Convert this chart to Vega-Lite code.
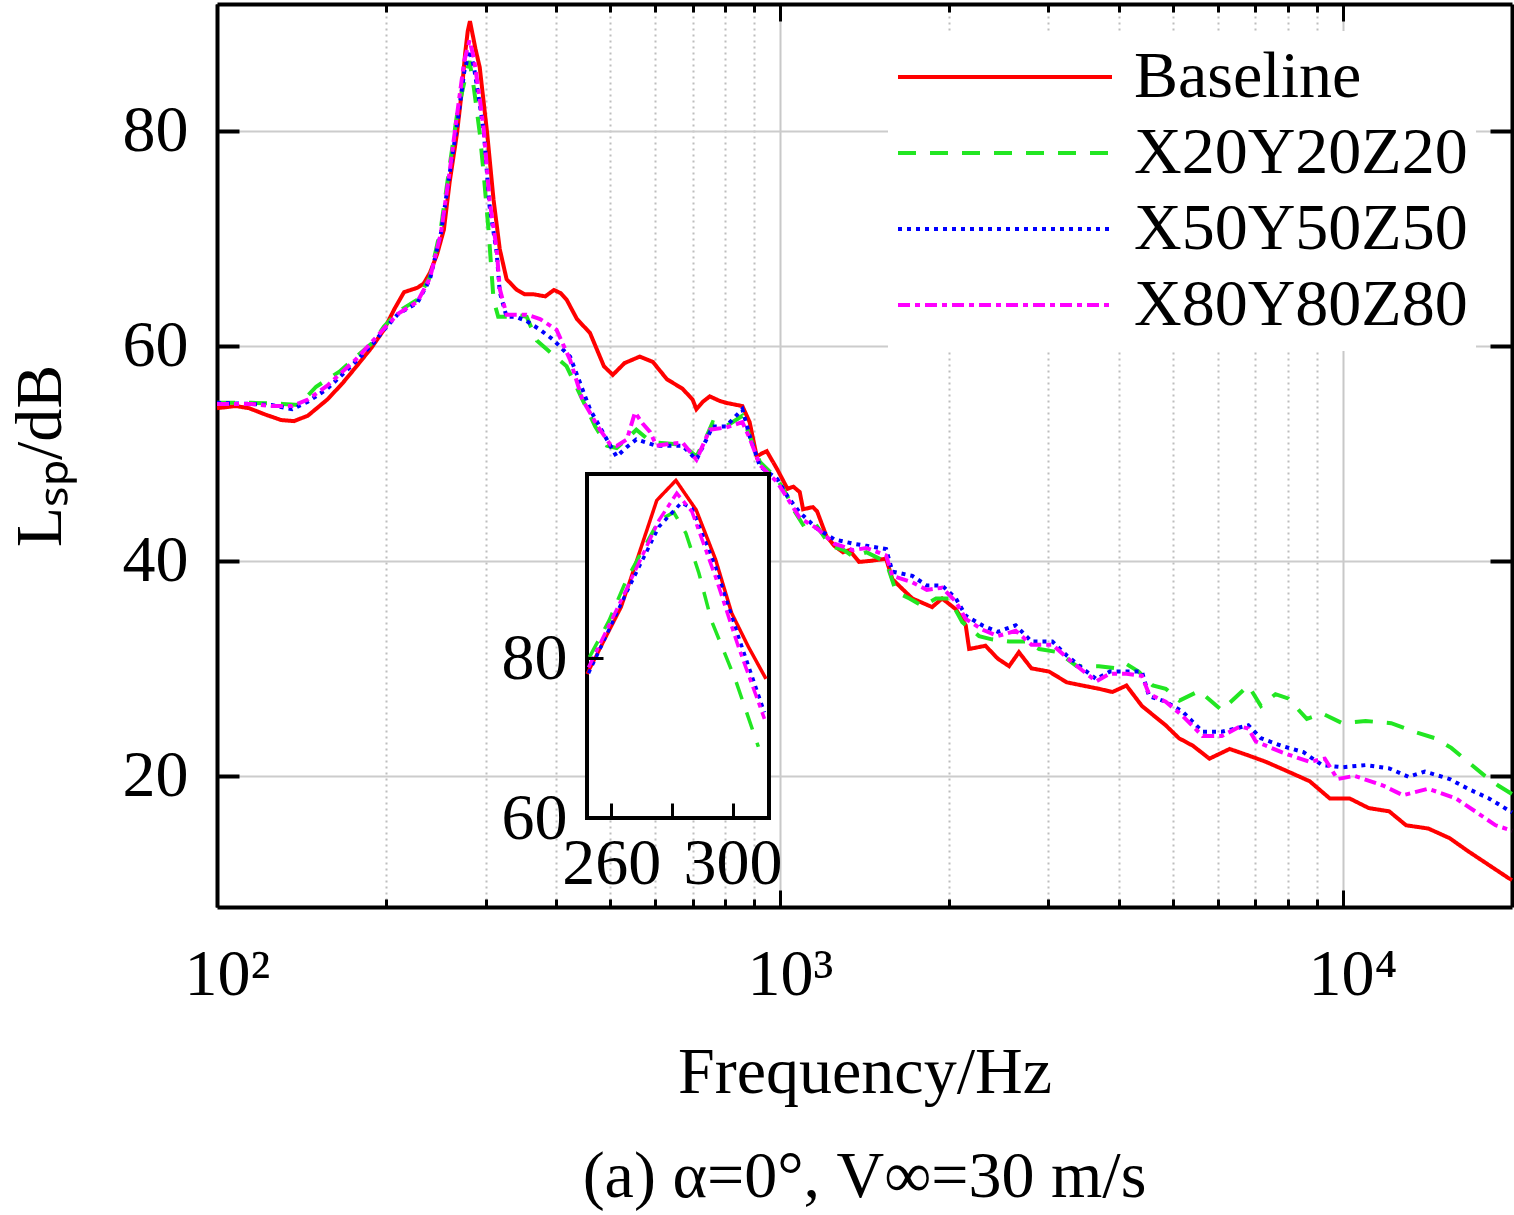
{
  "$schema": "https://vega.github.io/schema/vega-lite/v6.json",
  "autosize": {"type": "none"},
  "padding": {"left": 217, "top": 4, "right": 2, "bottom": 308},
  "width": 1295,
  "height": 903,
  "background": "white",
  "config": {
    "view": {"stroke": null},
    "font": "Liberation Serif",
    "axis": {
      "labelFont": "Liberation Serif", "titleFont": "Liberation Serif",
      "labelFontSize": 66, "titleFontSize": 66, "titleFontWeight": "normal",
      "labelColor": "black", "titleColor": "black",
      "domainColor": "black", "tickColor": "black",
      "labelFlush": false, "labelOverlap": false
    }
  },
  "title": {
    "text": "(a) α=0°, V∞=30 m/s", "orient": "bottom", "offset": 40,
    "fontSize": 66, "fontWeight": "normal", "font": "Liberation Serif", "color": "black"
  },
  "datasets": {
    "main": [
      {"s": "Baseline", "f": 100, "v": 54.2}, {"s": "Baseline", "f": 108, "v": 54.4}, {"s": "Baseline", "f": 114, "v": 54.2},
      {"s": "Baseline", "f": 122, "v": 53.6}, {"s": "Baseline", "f": 130, "v": 53.1}, {"s": "Baseline", "f": 137, "v": 53.0},
      {"s": "Baseline", "f": 145, "v": 53.5}, {"s": "Baseline", "f": 157, "v": 55.0}, {"s": "Baseline", "f": 167, "v": 56.5},
      {"s": "Baseline", "f": 177, "v": 58.1}, {"s": "Baseline", "f": 188, "v": 59.8}, {"s": "Baseline", "f": 198, "v": 61.5},
      {"s": "Baseline", "f": 207, "v": 63.5}, {"s": "Baseline", "f": 215, "v": 65.0}, {"s": "Baseline", "f": 221, "v": 65.2},
      {"s": "Baseline", "f": 227, "v": 65.4}, {"s": "Baseline", "f": 233, "v": 65.8}, {"s": "Baseline", "f": 239, "v": 66.8},
      {"s": "Baseline", "f": 246, "v": 68.5}, {"s": "Baseline", "f": 253, "v": 70.8}, {"s": "Baseline", "f": 259, "v": 75.2},
      {"s": "Baseline", "f": 267, "v": 79.8}, {"s": "Baseline", "f": 272, "v": 83.5}, {"s": "Baseline", "f": 276, "v": 87.2},
      {"s": "Baseline", "f": 279, "v": 89.3}, {"s": "Baseline", "f": 281.5, "v": 90.2}, {"s": "Baseline", "f": 284, "v": 89.2},
      {"s": "Baseline", "f": 288, "v": 87.6}, {"s": "Baseline", "f": 293, "v": 85.9}, {"s": "Baseline", "f": 302, "v": 79.8},
      {"s": "Baseline", "f": 310, "v": 73.6}, {"s": "Baseline", "f": 318, "v": 69.0}, {"s": "Baseline", "f": 327, "v": 66.2},
      {"s": "Baseline", "f": 341, "v": 65.2}, {"s": "Baseline", "f": 352, "v": 64.8}, {"s": "Baseline", "f": 365, "v": 64.8},
      {"s": "Baseline", "f": 383, "v": 64.6}, {"s": "Baseline", "f": 397, "v": 65.2}, {"s": "Baseline", "f": 408, "v": 64.9},
      {"s": "Baseline", "f": 418, "v": 64.3}, {"s": "Baseline", "f": 436, "v": 62.5}, {"s": "Baseline", "f": 460, "v": 61.2},
      {"s": "Baseline", "f": 487, "v": 58.1}, {"s": "Baseline", "f": 505, "v": 57.3}, {"s": "Baseline", "f": 530, "v": 58.4},
      {"s": "Baseline", "f": 564, "v": 59.0}, {"s": "Baseline", "f": 595, "v": 58.5}, {"s": "Baseline", "f": 630, "v": 56.9},
      {"s": "Baseline", "f": 672, "v": 56.0}, {"s": "Baseline", "f": 700, "v": 55.0}, {"s": "Baseline", "f": 711, "v": 54.1},
      {"s": "Baseline", "f": 730, "v": 54.8}, {"s": "Baseline", "f": 751, "v": 55.3}, {"s": "Baseline", "f": 780, "v": 54.9},
      {"s": "Baseline", "f": 802, "v": 54.7}, {"s": "Baseline", "f": 858, "v": 54.4}, {"s": "Baseline", "f": 884, "v": 52.9},
      {"s": "Baseline", "f": 910, "v": 49.7}, {"s": "Baseline", "f": 930, "v": 50.0}, {"s": "Baseline", "f": 948, "v": 50.2},
      {"s": "Baseline", "f": 990, "v": 48.5}, {"s": "Baseline", "f": 1032, "v": 46.7}, {"s": "Baseline", "f": 1057, "v": 46.9},
      {"s": "Baseline", "f": 1085, "v": 46.4}, {"s": "Baseline", "f": 1100, "v": 44.8}, {"s": "Baseline", "f": 1145, "v": 45.0},
      {"s": "Baseline", "f": 1165, "v": 44.6}, {"s": "Baseline", "f": 1210, "v": 42.3}, {"s": "Baseline", "f": 1250, "v": 41.4},
      {"s": "Baseline", "f": 1295, "v": 40.8}, {"s": "Baseline", "f": 1330, "v": 41.0}, {"s": "Baseline", "f": 1383, "v": 39.9},
      {"s": "Baseline", "f": 1450, "v": 40.0}, {"s": "Baseline", "f": 1545, "v": 40.2}, {"s": "Baseline", "f": 1585, "v": 38.3},
      {"s": "Baseline", "f": 1650, "v": 37.4}, {"s": "Baseline", "f": 1720, "v": 36.5}, {"s": "Baseline", "f": 1865, "v": 35.7},
      {"s": "Baseline", "f": 1943, "v": 36.5}, {"s": "Baseline", "f": 2055, "v": 35.5}, {"s": "Baseline", "f": 2140, "v": 34.0},
      {"s": "Baseline", "f": 2170, "v": 31.8}, {"s": "Baseline", "f": 2320, "v": 32.1}, {"s": "Baseline", "f": 2440, "v": 30.9},
      {"s": "Baseline", "f": 2555, "v": 30.2}, {"s": "Baseline", "f": 2660, "v": 31.5}, {"s": "Baseline", "f": 2800, "v": 30.0},
      {"s": "Baseline", "f": 3010, "v": 29.7}, {"s": "Baseline", "f": 3235, "v": 28.7}, {"s": "Baseline", "f": 3450, "v": 28.4},
      {"s": "Baseline", "f": 3690, "v": 28.1}, {"s": "Baseline", "f": 3900, "v": 27.8}, {"s": "Baseline", "f": 4130, "v": 28.4},
      {"s": "Baseline", "f": 4400, "v": 26.5}, {"s": "Baseline", "f": 4850, "v": 24.7}, {"s": "Baseline", "f": 5120, "v": 23.5},
      {"s": "Baseline", "f": 5420, "v": 22.8}, {"s": "Baseline", "f": 5800, "v": 21.6}, {"s": "Baseline", "f": 6300, "v": 22.5},
      {"s": "Baseline", "f": 6800, "v": 21.9}, {"s": "Baseline", "f": 7310, "v": 21.3}, {"s": "Baseline", "f": 8000, "v": 20.4},
      {"s": "Baseline", "f": 8740, "v": 19.5}, {"s": "Baseline", "f": 9490, "v": 17.9}, {"s": "Baseline", "f": 10290, "v": 17.9},
      {"s": "Baseline", "f": 11130, "v": 17.0}, {"s": "Baseline", "f": 12100, "v": 16.7}, {"s": "Baseline", "f": 12970, "v": 15.4},
      {"s": "Baseline", "f": 14200, "v": 15.1}, {"s": "Baseline", "f": 15500, "v": 14.2}, {"s": "Baseline", "f": 16700, "v": 13.0},
      {"s": "Baseline", "f": 18200, "v": 11.7}, {"s": "Baseline", "f": 19700, "v": 10.5}, {"s": "Baseline", "f": 20000, "v": 10.3},

      {"s": "X20Y20Z20", "f": 100, "v": 54.7}, {"s": "X20Y20Z20", "f": 115, "v": 54.7}, {"s": "X20Y20Z20", "f": 131, "v": 54.6},
      {"s": "X20Y20Z20", "f": 140, "v": 54.5}, {"s": "X20Y20Z20", "f": 150, "v": 56.2}, {"s": "X20Y20Z20", "f": 165, "v": 57.6},
      {"s": "X20Y20Z20", "f": 177, "v": 59.0}, {"s": "X20Y20Z20", "f": 190, "v": 60.4}, {"s": "X20Y20Z20", "f": 198, "v": 61.8},
      {"s": "X20Y20Z20", "f": 210, "v": 63.2}, {"s": "X20Y20Z20", "f": 227, "v": 64.3}, {"s": "X20Y20Z20", "f": 239, "v": 66.4},
      {"s": "X20Y20Z20", "f": 250, "v": 71.0}, {"s": "X20Y20Z20", "f": 259, "v": 76.7}, {"s": "X20Y20Z20", "f": 267, "v": 81.5},
      {"s": "X20Y20Z20", "f": 275, "v": 84.5}, {"s": "X20Y20Z20", "f": 281, "v": 86.5}, {"s": "X20Y20Z20", "f": 286, "v": 84.0},
      {"s": "X20Y20Z20", "f": 293, "v": 79.8}, {"s": "X20Y20Z20", "f": 298, "v": 75.8}, {"s": "X20Y20Z20", "f": 304, "v": 70.5},
      {"s": "X20Y20Z20", "f": 310, "v": 64.3}, {"s": "X20Y20Z20", "f": 316, "v": 62.7}, {"s": "X20Y20Z20", "f": 332, "v": 62.7},
      {"s": "X20Y20Z20", "f": 341, "v": 62.9}, {"s": "X20Y20Z20", "f": 355, "v": 62.7}, {"s": "X20Y20Z20", "f": 370, "v": 60.5},
      {"s": "X20Y20Z20", "f": 385, "v": 59.7}, {"s": "X20Y20Z20", "f": 418, "v": 58.1}, {"s": "X20Y20Z20", "f": 446, "v": 55.0},
      {"s": "X20Y20Z20", "f": 470, "v": 52.5}, {"s": "X20Y20Z20", "f": 493, "v": 50.7}, {"s": "X20Y20Z20", "f": 513, "v": 50.5},
      {"s": "X20Y20Z20", "f": 534, "v": 51.3}, {"s": "X20Y20Z20", "f": 556, "v": 52.2}, {"s": "X20Y20Z20", "f": 580, "v": 51.4},
      {"s": "X20Y20Z20", "f": 604, "v": 51.0}, {"s": "X20Y20Z20", "f": 640, "v": 50.9}, {"s": "X20Y20Z20", "f": 672, "v": 50.8},
      {"s": "X20Y20Z20", "f": 711, "v": 49.7}, {"s": "X20Y20Z20", "f": 740, "v": 51.5}, {"s": "X20Y20Z20", "f": 760, "v": 52.9},
      {"s": "X20Y20Z20", "f": 802, "v": 52.5}, {"s": "X20Y20Z20", "f": 858, "v": 53.5}, {"s": "X20Y20Z20", "f": 884, "v": 51.6},
      {"s": "X20Y20Z20", "f": 922, "v": 49.2}, {"s": "X20Y20Z20", "f": 990, "v": 47.6}, {"s": "X20Y20Z20", "f": 1032, "v": 46.0},
      {"s": "X20Y20Z20", "f": 1057, "v": 44.8}, {"s": "X20Y20Z20", "f": 1120, "v": 42.7}, {"s": "X20Y20Z20", "f": 1165, "v": 43.2},
      {"s": "X20Y20Z20", "f": 1230, "v": 41.4}, {"s": "X20Y20Z20", "f": 1300, "v": 41.0}, {"s": "X20Y20Z20", "f": 1350, "v": 40.4},
      {"s": "X20Y20Z20", "f": 1425, "v": 40.8}, {"s": "X20Y20Z20", "f": 1545, "v": 39.9}, {"s": "X20Y20Z20", "f": 1610, "v": 37.1},
      {"s": "X20Y20Z20", "f": 1700, "v": 36.5}, {"s": "X20Y20Z20", "f": 1795, "v": 35.8}, {"s": "X20Y20Z20", "f": 1895, "v": 36.5},
      {"s": "X20Y20Z20", "f": 2000, "v": 36.5}, {"s": "X20Y20Z20", "f": 2110, "v": 34.3}, {"s": "X20Y20Z20", "f": 2260, "v": 33.0},
      {"s": "X20Y20Z20", "f": 2380, "v": 32.7}, {"s": "X20Y20Z20", "f": 2555, "v": 32.5}, {"s": "X20Y20Z20", "f": 2730, "v": 32.5},
      {"s": "X20Y20Z20", "f": 2890, "v": 31.8}, {"s": "X20Y20Z20", "f": 3125, "v": 31.5}, {"s": "X20Y20Z20", "f": 3370, "v": 30.2},
      {"s": "X20Y20Z20", "f": 3690, "v": 30.2}, {"s": "X20Y20Z20", "f": 3960, "v": 30.0}, {"s": "X20Y20Z20", "f": 4130, "v": 30.4},
      {"s": "X20Y20Z20", "f": 4340, "v": 29.7}, {"s": "X20Y20Z20", "f": 4600, "v": 28.4}, {"s": "X20Y20Z20", "f": 4850, "v": 28.1},
      {"s": "X20Y20Z20", "f": 5130, "v": 27.0}, {"s": "X20Y20Z20", "f": 5560, "v": 27.9}, {"s": "X20Y20Z20", "f": 6100, "v": 26.1},
      {"s": "X20Y20Z20", "f": 6800, "v": 28.4}, {"s": "X20Y20Z20", "f": 7160, "v": 26.5}, {"s": "X20Y20Z20", "f": 7600, "v": 27.6},
      {"s": "X20Y20Z20", "f": 8000, "v": 27.2}, {"s": "X20Y20Z20", "f": 8640, "v": 25.3}, {"s": "X20Y20Z20", "f": 9200, "v": 25.8},
      {"s": "X20Y20Z20", "f": 9990, "v": 24.9}, {"s": "X20Y20Z20", "f": 10990, "v": 25.1}, {"s": "X20Y20Z20", "f": 12200, "v": 24.9},
      {"s": "X20Y20Z20", "f": 13400, "v": 24.1}, {"s": "X20Y20Z20", "f": 14600, "v": 23.5}, {"s": "X20Y20Z20", "f": 15600, "v": 22.6},
      {"s": "X20Y20Z20", "f": 16700, "v": 21.3}, {"s": "X20Y20Z20", "f": 17900, "v": 20.0}, {"s": "X20Y20Z20", "f": 18900, "v": 19.1},
      {"s": "X20Y20Z20", "f": 20000, "v": 18.3},

      {"s": "X50Y50Z50", "f": 100, "v": 54.7}, {"s": "X50Y50Z50", "f": 115, "v": 54.6}, {"s": "X50Y50Z50", "f": 125, "v": 54.5},
      {"s": "X50Y50Z50", "f": 136, "v": 54.1}, {"s": "X50Y50Z50", "f": 145, "v": 54.8}, {"s": "X50Y50Z50", "f": 157, "v": 56.0},
      {"s": "X50Y50Z50", "f": 177, "v": 58.6}, {"s": "X50Y50Z50", "f": 190, "v": 60.3}, {"s": "X50Y50Z50", "f": 198, "v": 61.5},
      {"s": "X50Y50Z50", "f": 210, "v": 63.0}, {"s": "X50Y50Z50", "f": 227, "v": 64.0}, {"s": "X50Y50Z50", "f": 239, "v": 66.2},
      {"s": "X50Y50Z50", "f": 250, "v": 70.5}, {"s": "X50Y50Z50", "f": 259, "v": 76.0}, {"s": "X50Y50Z50", "f": 267, "v": 80.5},
      {"s": "X50Y50Z50", "f": 275, "v": 85.5}, {"s": "X50Y50Z50", "f": 281, "v": 87.5}, {"s": "X50Y50Z50", "f": 286, "v": 86.0},
      {"s": "X50Y50Z50", "f": 293, "v": 82.5}, {"s": "X50Y50Z50", "f": 298, "v": 79.8}, {"s": "X50Y50Z50", "f": 305, "v": 73.0},
      {"s": "X50Y50Z50", "f": 314, "v": 68.7}, {"s": "X50Y50Z50", "f": 318, "v": 65.0}, {"s": "X50Y50Z50", "f": 327, "v": 62.7},
      {"s": "X50Y50Z50", "f": 340, "v": 62.7}, {"s": "X50Y50Z50", "f": 355, "v": 62.3}, {"s": "X50Y50Z50", "f": 375, "v": 61.5},
      {"s": "X50Y50Z50", "f": 395, "v": 60.6}, {"s": "X50Y50Z50", "f": 424, "v": 59.0}, {"s": "X50Y50Z50", "f": 460, "v": 54.1},
      {"s": "X50Y50Z50", "f": 500, "v": 50.7}, {"s": "X50Y50Z50", "f": 513, "v": 49.7}, {"s": "X50Y50Z50", "f": 535, "v": 50.6},
      {"s": "X50Y50Z50", "f": 556, "v": 51.3}, {"s": "X50Y50Z50", "f": 604, "v": 50.7}, {"s": "X50Y50Z50", "f": 672, "v": 50.7},
      {"s": "X50Y50Z50", "f": 711, "v": 49.4}, {"s": "X50Y50Z50", "f": 760, "v": 52.5}, {"s": "X50Y50Z50", "f": 802, "v": 52.5},
      {"s": "X50Y50Z50", "f": 858, "v": 54.1}, {"s": "X50Y50Z50", "f": 884, "v": 51.6}, {"s": "X50Y50Z50", "f": 922, "v": 48.8},
      {"s": "X50Y50Z50", "f": 990, "v": 47.6}, {"s": "X50Y50Z50", "f": 1032, "v": 46.0}, {"s": "X50Y50Z50", "f": 1085, "v": 44.5},
      {"s": "X50Y50Z50", "f": 1165, "v": 43.0}, {"s": "X50Y50Z50", "f": 1250, "v": 42.0}, {"s": "X50Y50Z50", "f": 1350, "v": 41.6},
      {"s": "X50Y50Z50", "f": 1425, "v": 41.4}, {"s": "X50Y50Z50", "f": 1545, "v": 41.1}, {"s": "X50Y50Z50", "f": 1585, "v": 39.0},
      {"s": "X50Y50Z50", "f": 1720, "v": 38.6}, {"s": "X50Y50Z50", "f": 1825, "v": 37.7}, {"s": "X50Y50Z50", "f": 1943, "v": 37.7},
      {"s": "X50Y50Z50", "f": 2055, "v": 36.5}, {"s": "X50Y50Z50", "f": 2140, "v": 34.9}, {"s": "X50Y50Z50", "f": 2290, "v": 34.0},
      {"s": "X50Y50Z50", "f": 2440, "v": 33.4}, {"s": "X50Y50Z50", "f": 2625, "v": 34.0}, {"s": "X50Y50Z50", "f": 2800, "v": 32.5},
      {"s": "X50Y50Z50", "f": 3050, "v": 32.5}, {"s": "X50Y50Z50", "f": 3235, "v": 31.2}, {"s": "X50Y50Z50", "f": 3450, "v": 30.0},
      {"s": "X50Y50Z50", "f": 3650, "v": 29.0}, {"s": "X50Y50Z50", "f": 3860, "v": 29.7}, {"s": "X50Y50Z50", "f": 4130, "v": 29.7},
      {"s": "X50Y50Z50", "f": 4400, "v": 29.7}, {"s": "X50Y50Z50", "f": 4530, "v": 27.4}, {"s": "X50Y50Z50", "f": 4850, "v": 26.9},
      {"s": "X50Y50Z50", "f": 5190, "v": 26.0}, {"s": "X50Y50Z50", "f": 5640, "v": 24.1}, {"s": "X50Y50Z50", "f": 6100, "v": 24.1},
      {"s": "X50Y50Z50", "f": 6800, "v": 24.7}, {"s": "X50Y50Z50", "f": 7160, "v": 23.5}, {"s": "X50Y50Z50", "f": 7790, "v": 22.8},
      {"s": "X50Y50Z50", "f": 8520, "v": 22.2}, {"s": "X50Y50Z50", "f": 9200, "v": 21.0}, {"s": "X50Y50Z50", "f": 9990, "v": 20.8},
      {"s": "X50Y50Z50", "f": 10990, "v": 21.0}, {"s": "X50Y50Z50", "f": 12100, "v": 20.7}, {"s": "X50Y50Z50", "f": 13100, "v": 19.9},
      {"s": "X50Y50Z50", "f": 14000, "v": 20.4}, {"s": "X50Y50Z50", "f": 15500, "v": 19.7}, {"s": "X50Y50Z50", "f": 16700, "v": 18.8},
      {"s": "X50Y50Z50", "f": 18200, "v": 17.9}, {"s": "X50Y50Z50", "f": 20000, "v": 16.6},

      {"s": "X80Y80Z80", "f": 100, "v": 54.6}, {"s": "X80Y80Z80", "f": 115, "v": 54.6}, {"s": "X80Y80Z80", "f": 125, "v": 54.4},
      {"s": "X80Y80Z80", "f": 136, "v": 54.4}, {"s": "X80Y80Z80", "f": 145, "v": 55.0}, {"s": "X80Y80Z80", "f": 157, "v": 56.3},
      {"s": "X80Y80Z80", "f": 177, "v": 58.8}, {"s": "X80Y80Z80", "f": 198, "v": 61.6}, {"s": "X80Y80Z80", "f": 210, "v": 63.0},
      {"s": "X80Y80Z80", "f": 227, "v": 64.1}, {"s": "X80Y80Z80", "f": 239, "v": 66.3}, {"s": "X80Y80Z80", "f": 250, "v": 70.5},
      {"s": "X80Y80Z80", "f": 259, "v": 76.2}, {"s": "X80Y80Z80", "f": 267, "v": 81.5}, {"s": "X80Y80Z80", "f": 275, "v": 86.5},
      {"s": "X80Y80Z80", "f": 281, "v": 88.4}, {"s": "X80Y80Z80", "f": 286, "v": 86.8}, {"s": "X80Y80Z80", "f": 293, "v": 83.0},
      {"s": "X80Y80Z80", "f": 298, "v": 80.0}, {"s": "X80Y80Z80", "f": 305, "v": 73.5}, {"s": "X80Y80Z80", "f": 314, "v": 69.0},
      {"s": "X80Y80Z80", "f": 318, "v": 65.3}, {"s": "X80Y80Z80", "f": 327, "v": 62.9}, {"s": "X80Y80Z80", "f": 340, "v": 62.9},
      {"s": "X80Y80Z80", "f": 355, "v": 62.9}, {"s": "X80Y80Z80", "f": 375, "v": 62.5}, {"s": "X80Y80Z80", "f": 401, "v": 61.5},
      {"s": "X80Y80Z80", "f": 424, "v": 58.7}, {"s": "X80Y80Z80", "f": 446, "v": 55.0}, {"s": "X80Y80Z80", "f": 475, "v": 52.5},
      {"s": "X80Y80Z80", "f": 500, "v": 50.8}, {"s": "X80Y80Z80", "f": 513, "v": 50.7}, {"s": "X80Y80Z80", "f": 535, "v": 51.3},
      {"s": "X80Y80Z80", "f": 553, "v": 53.8}, {"s": "X80Y80Z80", "f": 570, "v": 52.8}, {"s": "X80Y80Z80", "f": 588, "v": 52.0},
      {"s": "X80Y80Z80", "f": 604, "v": 50.7}, {"s": "X80Y80Z80", "f": 640, "v": 50.9}, {"s": "X80Y80Z80", "f": 672, "v": 51.0},
      {"s": "X80Y80Z80", "f": 711, "v": 49.4}, {"s": "X80Y80Z80", "f": 751, "v": 52.2}, {"s": "X80Y80Z80", "f": 802, "v": 52.4},
      {"s": "X80Y80Z80", "f": 858, "v": 52.9}, {"s": "X80Y80Z80", "f": 884, "v": 51.4}, {"s": "X80Y80Z80", "f": 922, "v": 48.9},
      {"s": "X80Y80Z80", "f": 990, "v": 47.3}, {"s": "X80Y80Z80", "f": 1032, "v": 45.8}, {"s": "X80Y80Z80", "f": 1085, "v": 44.0},
      {"s": "X80Y80Z80", "f": 1165, "v": 43.0}, {"s": "X80Y80Z80", "f": 1250, "v": 41.6}, {"s": "X80Y80Z80", "f": 1350, "v": 41.0},
      {"s": "X80Y80Z80", "f": 1425, "v": 41.2}, {"s": "X80Y80Z80", "f": 1545, "v": 40.5}, {"s": "X80Y80Z80", "f": 1585, "v": 38.6},
      {"s": "X80Y80Z80", "f": 1720, "v": 38.0}, {"s": "X80Y80Z80", "f": 1825, "v": 37.3}, {"s": "X80Y80Z80", "f": 1943, "v": 37.5},
      {"s": "X80Y80Z80", "f": 2055, "v": 36.2}, {"s": "X80Y80Z80", "f": 2140, "v": 34.6}, {"s": "X80Y80Z80", "f": 2290, "v": 33.6},
      {"s": "X80Y80Z80", "f": 2440, "v": 33.0}, {"s": "X80Y80Z80", "f": 2625, "v": 33.5}, {"s": "X80Y80Z80", "f": 2800, "v": 32.2},
      {"s": "X80Y80Z80", "f": 3050, "v": 32.2}, {"s": "X80Y80Z80", "f": 3235, "v": 31.0}, {"s": "X80Y80Z80", "f": 3450, "v": 29.8},
      {"s": "X80Y80Z80", "f": 3650, "v": 28.8}, {"s": "X80Y80Z80", "f": 3860, "v": 29.5}, {"s": "X80Y80Z80", "f": 4130, "v": 29.5},
      {"s": "X80Y80Z80", "f": 4400, "v": 29.3}, {"s": "X80Y80Z80", "f": 4530, "v": 27.6}, {"s": "X80Y80Z80", "f": 4850, "v": 26.9},
      {"s": "X80Y80Z80", "f": 5190, "v": 25.6}, {"s": "X80Y80Z80", "f": 5640, "v": 23.7}, {"s": "X80Y80Z80", "f": 6100, "v": 23.7},
      {"s": "X80Y80Z80", "f": 6580, "v": 24.6}, {"s": "X80Y80Z80", "f": 6800, "v": 24.4}, {"s": "X80Y80Z80", "f": 7010, "v": 23.2},
      {"s": "X80Y80Z80", "f": 7790, "v": 22.2}, {"s": "X80Y80Z80", "f": 8740, "v": 21.3}, {"s": "X80Y80Z80", "f": 9300, "v": 21.6},
      {"s": "X80Y80Z80", "f": 9790, "v": 19.7}, {"s": "X80Y80Z80", "f": 10500, "v": 20.0}, {"s": "X80Y80Z80", "f": 11800, "v": 19.1},
      {"s": "X80Y80Z80", "f": 12800, "v": 18.2}, {"s": "X80Y80Z80", "f": 14200, "v": 18.8}, {"s": "X80Y80Z80", "f": 15900, "v": 17.9},
      {"s": "X80Y80Z80", "f": 17200, "v": 16.7}, {"s": "X80Y80Z80", "f": 18700, "v": 15.4}, {"s": "X80Y80Z80", "f": 20000, "v": 14.9}
    ],
    "inset": [
      {"s": "Baseline", "f": 252, "v": 78.0}, {"s": "Baseline", "f": 263.3, "v": 86.4}, {"s": "Baseline", "f": 269.2, "v": 93.1},
      {"s": "Baseline", "f": 275, "v": 99.7}, {"s": "Baseline", "f": 281.3, "v": 102.2}, {"s": "Baseline", "f": 288, "v": 98.5},
      {"s": "Baseline", "f": 294.4, "v": 92.3}, {"s": "Baseline", "f": 299.7, "v": 85.6}, {"s": "Baseline", "f": 305.2, "v": 81.4},
      {"s": "Baseline", "f": 311, "v": 77.4},
      {"s": "X20Y20Z20", "f": 252.8, "v": 80.1}, {"s": "X20Y20Z20", "f": 259.3, "v": 84.7}, {"s": "X20Y20Z20", "f": 264.9, "v": 89.7},
      {"s": "X20Y20Z20", "f": 275.7, "v": 97.2}, {"s": "X20Y20Z20", "f": 280.6, "v": 98.2}, {"s": "X20Y20Z20", "f": 284.6, "v": 95.6},
      {"s": "X20Y20Z20", "f": 288.9, "v": 90.6}, {"s": "X20Y20Z20", "f": 293, "v": 84.7}, {"s": "X20Y20Z20", "f": 301, "v": 77.2},
      {"s": "X20Y20Z20", "f": 308.5, "v": 68.9},
      {"s": "X50Y50Z50", "f": 252.5, "v": 78.1}, {"s": "X50Y50Z50", "f": 264.9, "v": 88.1}, {"s": "X50Y50Z50", "f": 275.7, "v": 96.4},
      {"s": "X50Y50Z50", "f": 283.1, "v": 99.4}, {"s": "X50Y50Z50", "f": 286.6, "v": 98.7}, {"s": "X50Y50Z50", "f": 294.4, "v": 91.4},
      {"s": "X50Y50Z50", "f": 302, "v": 82.6}, {"s": "X50Y50Z50", "f": 310.5, "v": 73.2},
      {"s": "X80Y80Z80", "f": 252.5, "v": 78.8}, {"s": "X80Y80Z80", "f": 264.9, "v": 88.5}, {"s": "X80Y80Z80", "f": 275.7, "v": 97.2},
      {"s": "X80Y80Z80", "f": 281.6, "v": 100.6}, {"s": "X80Y80Z80", "f": 286.6, "v": 98.3}, {"s": "X80Y80Z80", "f": 294.4, "v": 90.1},
      {"s": "X80Y80Z80", "f": 302, "v": 81.3}, {"s": "X80Y80Z80", "f": 310.5, "v": 72.4}
    ],
    "frame": [{"f0": 252, "f1": 312, "v0": 60, "v1": 103}]
  },
  "layer": [
    {
      "data": {"name": "main"},
      "mark": {"type": "line", "strokeWidth": 4},
      "encoding": {
        "x": {
          "field": "f", "type": "quantitative",
          "scale": {"type": "log", "domain": [100, 20000], "nice": false},
          "axis": {
            "orient": "bottom",
            "values": [100, 200, 300, 400, 500, 600, 700, 800, 900, 1000, 2000, 3000, 4000, 5000, 6000, 7000, 8000, 9000, 10000],
            "labelExpr": "datum.value == 100 ? '10²' : datum.value == 1000 ? '10³' : datum.value == 10000 ? '10⁴' : ''",
            "labelOffset": 10,
            "tickSize": {"condition": {"test": "indexof([100, 1000, 10000], datum.value) >= 0", "value": -17}, "value": -8},
            "tickWidth": 3, "domainWidth": 4,
            "grid": true, "gridWidth": 2,
            "gridColor": {"condition": {"test": "indexof([100, 1000, 10000], datum.value) >= 0", "value": "#c8c8c8"}, "value": "#bdbdbd"},
            "gridDash": {"condition": {"test": "indexof([100, 1000, 10000], datum.value) >= 0", "value": [1, 0]}, "value": [2, 4]},
            "labelPadding": 52,
            "title": "Frequency/Hz", "titlePadding": 24
          }
        },
        "y": {
          "field": "v", "type": "quantitative",
          "scale": {"domain": [7.8, 91.8], "nice": false, "zero": false},
          "axis": {
            "orient": "left", "values": [20, 40, 60, 80],
            "tickSize": -22, "tickWidth": 4, "domainWidth": 4,
            "grid": true, "gridColor": "#cccccc", "gridWidth": 2,
            "labelPadding": 51,
            "title": "Lₛₚ/dB", "titlePadding": 48
          }
        },
        "color": {
          "field": "s", "type": "nominal",
          "scale": {
            "domain": ["Baseline", "X20Y20Z20", "X50Y50Z50", "X80Y80Z80"],
            "range": ["#ff0000", "#22e622", "#0000ff", "#ff00ff"]
          },
          "legend": {
            "title": null, "orient": "none", "legendX": 671, "legendY": 27,
            "symbolType": "stroke", "symbolSize": 45796, "symbolStrokeWidth": 4,
            "labelFont": "Liberation Serif", "labelFontSize": 66, "labelColor": "black",
            "labelLimit": 0, "labelOffset": 20, "clipHeight": 76, "rowPadding": 0,
            "fillColor": "white", "padding": 8
          }
        },
        "strokeDash": {
          "field": "s", "type": "nominal",
          "scale": {
            "domain": ["Baseline", "X20Y20Z20", "X50Y50Z50", "X80Y80Z80"],
            "range": [[1, 0], [18, 14], [4, 5], [12, 5, 5, 5]]
          }
        }
      }
    },
    {
      "data": {"name": "main"},
      "mark": {"type": "line", "strokeOpacity": 0},
      "encoding": {
        "x": {
          "field": "f", "type": "quantitative",
          "scale": {"type": "log", "domain": [100, 20000], "nice": false},
          "axis": {
            "orient": "top", "labels": false, "grid": false, "title": null,
            "values": [100, 200, 300, 400, 500, 600, 700, 800, 900, 1000, 2000, 3000, 4000, 5000, 6000, 7000, 8000, 9000, 10000],
            "tickSize": {"condition": {"test": "indexof([100, 1000, 10000], datum.value) >= 0", "value": -17}, "value": -8},
            "tickWidth": 3, "domainWidth": 4
          }
        },
        "y": {
          "field": "v", "type": "quantitative",
          "scale": {"domain": [7.8, 91.8], "nice": false, "zero": false},
          "axis": {
            "orient": "right", "values": [20, 40, 60, 80], "labels": false, "grid": false, "title": null,
            "tickSize": -22, "tickWidth": 4, "domainWidth": 4
          }
        }
      }
    },
    {
      "data": {"name": "frame"},
      "mark": {"type": "rect", "fill": "white", "stroke": "black", "strokeWidth": 4},
      "encoding": {
        "x": {"field": "f0", "type": "quantitative", "scale": {"domain": [252, 312], "range": [370, 552], "nice": false, "zero": false}, "axis": null},
        "x2": {"field": "f1"},
        "y": {"field": "v0", "type": "quantitative", "scale": {"domain": [60, 103], "range": [814, 470], "nice": false, "zero": false}, "axis": null},
        "y2": {"field": "v1"}
      }
    },
    {
      "data": {"name": "inset"},
      "mark": {"type": "line", "strokeWidth": 3.5},
      "encoding": {
        "x": {
          "field": "f", "type": "quantitative",
          "scale": {"domain": [252, 312], "range": [370, 552], "nice": false, "zero": false},
          "axis": {
            "orient": "bottom", "offset": -89, "values": [260, 280, 300],
            "labelExpr": "datum.value == 280 ? '' : datum.label",
            "domain": false, "grid": false, "title": null, "zindex": 1,
            "tickSize": -15, "tickWidth": 3, "labelPadding": 28
          }
        },
        "y": {
          "field": "v", "type": "quantitative",
          "scale": {"domain": [60, 103], "range": [814, 470], "nice": false, "zero": false},
          "axis": {
            "orient": "left", "offset": -370, "values": [60, 80],
            "domain": false, "grid": false, "title": null, "zindex": 1,
            "tickSize": -16, "tickWidth": 3, "labelPadding": 36
          }
        },
        "color": {"field": "s", "type": "nominal"},
        "strokeDash": {"field": "s", "type": "nominal"}
      }
    }
  ],
  "resolve": {"scale": {"x": "independent", "y": "independent"}}
}
